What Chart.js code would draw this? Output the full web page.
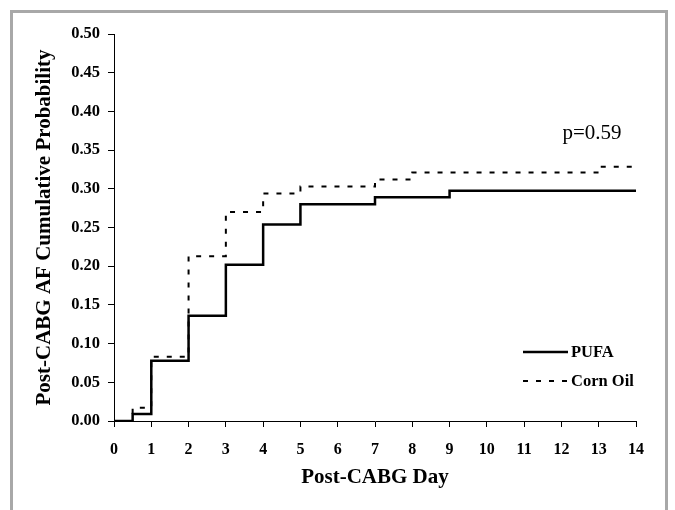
<!DOCTYPE html>
<html>
<head>
<meta charset="utf-8">
<script src="https://cdn.jsdelivr.net/npm/chart.js@4"></script>
<style>
  body { margin: 0; background: #fff; }
  #frame { position: absolute; left: 10px; top: 10px; width: 652px; height: 520px;
           border: 3px solid #a8a8a8; border-bottom: none; }
  #wrap { position: absolute; left: 0; top: 0; width: 675px; height: 510px; }
</style>
</head>
<body>
<div id="frame"></div>
<div id="wrap"><canvas id="c" width="675" height="510"></canvas></div>
<script>
// 步階點：x = 事件發生日，y = 之後的累積機率
const pufaDays  = [0, 0.5,   1,     2,     3,     4,     5,     7,     9,      14];
const pufaProb  = [0, 0.009, 0.078, 0.136, 0.202, 0.254, 0.280, 0.289, 0.2975, 0.2975];
const cornDays  = [0, 0.5,   1,     2,     3,     4,     5,     7,     8,     13,     14];
const cornProb  = [0, 0.017, 0.083, 0.213, 0.270, 0.294, 0.303, 0.312, 0.321, 0.3285, 0.3285];

const xTicks = [0, 1, 2, 3, 4, 5, 6, 7, 8, 9, 10, 11, 12, 13, 14];
const yTicks = [0, 0.05, 0.10, 0.15, 0.20, 0.25, 0.30, 0.35, 0.40, 0.45, 0.50];

const seriesNames = ['PUFA', 'Corn Oil'];
const pValueText = 'p=0.59';

const toPoints = (xs, ys) => xs.map((x, i) => ({ x: x, y: ys[i] }));

const serif = "'Liberation Serif', 'Times New Roman', serif";

// 圖例與 p 值
const overlayPlugin = {
    id: 'overlay',
    afterDraw(chart) {
        const ctx = chart.ctx;
        const xs = chart.scales.x, ys = chart.scales.y;
        ctx.save();
        ctx.fillStyle = '#000';
        ctx.font = '21px ' + serif;
        ctx.textAlign = 'center';
        ctx.textBaseline = 'middle';
        ctx.fillText(pValueText, xs.getPixelForValue(12.82), ys.getPixelForValue(0.372));

        const lx = 523, lw = 45;
        const rows = [352, 381];
        ctx.font = 'bold 16.5px ' + serif;
        ctx.textAlign = 'left';
        rows.forEach((yy, i) => {
            ctx.beginPath();
            ctx.strokeStyle = '#000';
            if (i === 0) {
                ctx.lineWidth = 2.5;
                ctx.setLineDash([]);
            } else {
                ctx.lineWidth = 2;
                ctx.setLineDash([5, 8]);
            }
            ctx.moveTo(lx, yy);
            ctx.lineTo(lx + lw, yy);
            ctx.stroke();
            ctx.setLineDash([]);
            ctx.fillText(seriesNames[i], lx + lw + 3, yy + 1);
        });
        ctx.restore();
    }
};

new Chart(document.getElementById('c'), {
    type: 'line',
    data: {
        datasets: [{
            label: seriesNames[0],
            data: toPoints(pufaDays, pufaProb),
            borderColor: '#000',
            borderWidth: 2.5,
            stepped: true,
            pointRadius: 0,
            fill: false
        }, {
            label: seriesNames[1],
            data: toPoints(cornDays, cornProb),
            borderColor: '#000',
            borderWidth: 2,
            borderDash: [5, 8],
            stepped: true,
            pointRadius: 0,
            fill: false
        }]
    },
    options: {
        responsive: false,
        animation: false,
        layout: { padding: { left: 0, right: 39, top: 34, bottom: 0 } },
        plugins: {
            legend: { display: false },
            tooltip: { enabled: false }
        },
        scales: {
            x: {
                type: 'linear',
                min: 0,
                max: 14,
                afterBuildTicks: s => { s.ticks = xTicks.map(v => ({ value: v })); },
                afterFit: s => { s.height = 89; },
                ticks: {
                    color: '#000',
                    font: { family: serif, size: 16, weight: 'bold' },
                    padding: 13,
                    maxRotation: 0
                },
                grid: { drawOnChartArea: false, drawTicks: true, tickLength: 6, color: '#000' },
                border: { display: true, color: '#000', width: 1 },
                title: {
                    display: true,
                    text: 'Post-CABG Day',
                    color: '#000',
                    font: { family: serif, size: 21, weight: 'bold' },
                    padding: { top: 0, bottom: 20 }
                }
            },
            y: {
                min: 0,
                max: 0.5,
                afterBuildTicks: s => { s.ticks = yTicks.map(v => ({ value: v })); },
                afterFit: s => { s.width = 114; },
                ticks: {
                    color: '#000',
                    font: { family: serif, size: 16.5, weight: 'bold' },
                    padding: 8,
                    callback: v => v.toFixed(2)
                },
                grid: { drawOnChartArea: false, drawTicks: true, tickLength: 6, color: '#000' },
                border: { display: true, color: '#000', width: 1 },
                title: {
                    display: true,
                    text: 'Post-CABG AF Cumulative Probability',
                    color: '#000',
                    font: { family: serif, size: 21, weight: 'bold' },
                    padding: { top: 32, bottom: 0 }
                }
            }
        }
    },
    plugins: [overlayPlugin]
});
</script>
</body>
</html>
